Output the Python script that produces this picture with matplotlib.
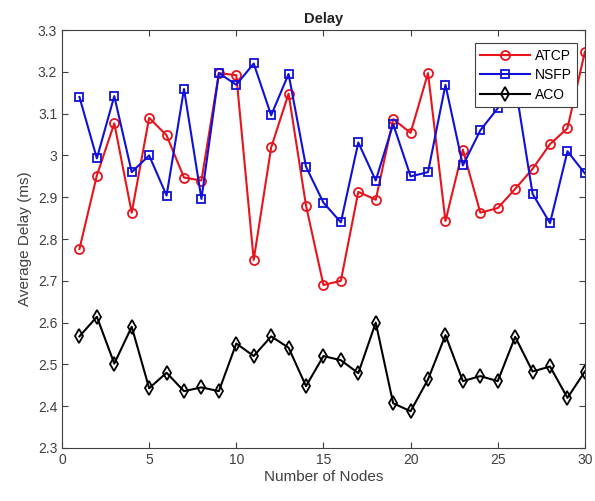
import numpy as np
import matplotlib
matplotlib.use('Agg')
import matplotlib.pyplot as plt

plt.rcParams['font.family'] = ['Liberation Sans', 'DejaVu Sans']

# data
nodes = list(range(1, 31))
atcp = [2.776, 2.952, 3.077, 2.863, 3.090, 3.048, 2.947, 2.940, 3.197, 3.192,
        2.750, 3.019, 3.148, 2.880, 2.690, 2.700, 2.913, 2.894, 3.087, 3.054,
        3.197, 2.843, 3.014, 2.863, 2.874, 2.920, 2.968, 3.027, 3.065, 3.248]
nsfp = [3.140, 2.993, 3.142, 2.960, 3.000, 2.904, 3.159, 2.896, 3.197, 3.169,
        3.220, 3.096, 3.195, 2.973, 2.887, 2.840, 3.031, 2.940, 3.075, 2.950,
        2.960, 3.169, 2.976, 3.060, 3.113, 3.170, 2.908, 2.838, 3.010, 2.957]
aco = [2.567, 2.614, 2.502, 2.590, 2.443, 2.480, 2.436, 2.445, 2.436, 2.550,
       2.520, 2.567, 2.540, 2.448, 2.520, 2.510, 2.479, 2.600, 2.407, 2.388,
       2.464, 2.570, 2.460, 2.472, 2.460, 2.566, 2.483, 2.495, 2.420, 2.483]

xticks = [0, 5, 10, 15, 20, 25, 30]
yticks = [2.3, 2.4, 2.5, 2.6, 2.7, 2.8, 2.9, 3.0, 3.1, 3.2, 3.3]
ytick_labels = ['2.3', '2.4', '2.5', '2.6', '2.7', '2.8', '2.9', '3', '3.1', '3.2', '3.3']

fig = plt.figure(figsize=(5.95, 5.01), dpi=100)
ax = fig.add_axes([0.1042, 0.1058, 0.8788, 0.8342])

ax.plot(nodes, atcp, '-o', color='#e8141c', lw=1.5, ms=6.5, mfc='none', mew=1.3, label='ATCP')
ax.plot(nodes, nsfp, '-s', color='#1010d8', lw=1.5, ms=6, mfc='none', mew=1.3, label='NSFP')
ax.plot(nodes, aco, '-d', color='black', lw=1.5, ms=7, mfc='none', mew=1.3, label='ACO')

ax.set_xlim(0, 30)
ax.set_ylim(2.3, 3.3)
ax.set_xticks(xticks)
ax.set_yticks(yticks)
ax.set_yticklabels(ytick_labels)
ax.tick_params(direction='in', top=True, right=True, labelsize=10,
               colors='#404040', length=4, width=0.8)
for s in ax.spines.values():
    s.set_color('#404040')
    s.set_linewidth(0.8)

ax.set_title('Delay', fontsize=10.5, fontweight='bold', color='#222222', pad=5)
ax.set_xlabel('Number of Nodes', fontsize=11, color='#404040', labelpad=2)
ax.set_ylabel('Average Delay (ms)', fontsize=11, color='#404040', labelpad=4)

leg = ax.legend(loc='upper right', fontsize=10, fancybox=False, framealpha=1,
                edgecolor='#404040', handlelength=3.6, borderpad=0.4,
                labelspacing=0.4, handletextpad=0.3, borderaxespad=0,
                bbox_to_anchor=(0.985, 0.969))
leg.get_frame().set_linewidth(0.8)

fig.savefig('out.png', dpi=100)
